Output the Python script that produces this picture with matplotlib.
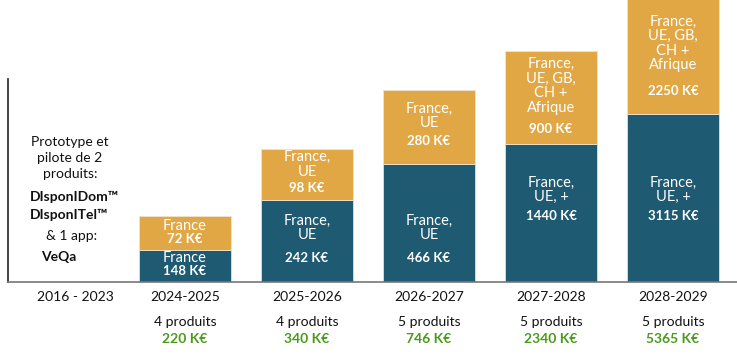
import matplotlib
matplotlib.use("Agg")
import matplotlib.pyplot as plt

# categories and values (bar heights are schematic)
periods = ["2024-2025", "2025-2026", "2026-2027", "2027-2028", "2028-2029"]
base_heights = [32, 82, 118, 138.5, 168.5]
export_heights = [34, 51, 74, 92.5, 120]
base_labels = ["France", "France,\nUE", "France,\nUE", "France,\nUE, +", "France,\nUE, +"]
base_values = [148, 242, 466, 1440, 3115]
export_labels = ["France", "France,\nUE", "France,\nUE",
                 "France,\nUE, GB,\nCH +\nAfrique", "France,\nUE, GB,\nCH +\nAfrique"]
export_values = [72, 98, 280, 900, 2250]
products = [4, 4, 5, 5, 5]
totals = [220, 340, 746, 2340, 5365]
first_period = "2016 - 2023"

BLUE = "#1e5a71"
ORANGE = "#e2a745"
GREEN = "#4a9a1c"
DARK = "#111111"

plt.rcParams["font.family"] = ["Lato", "DejaVu Sans"]

W, H = 737, 356
BASE_Y = 282  # pixel row of the x axis
fig = plt.figure(figsize=(W / 100, H / 100), dpi=100)
ax = fig.add_axes([8 / W, (H - BASE_Y) / H, 1 - 8 / W, BASE_Y / H])
ax.set_xlim(-0.4508, 5.5246)
ax.set_ylim(0, BASE_Y)


def py(row):
    # pixel row of the picture -> data y
    return BASE_Y - row


xs = list(range(1, len(periods) + 1))
ax.bar(xs, base_heights, width=0.754, color=BLUE, edgecolor="#d8e2e6", linewidth=0.6)
ax.bar(xs, export_heights, bottom=base_heights, width=0.754, color=ORANGE,
       edgecolor="#efe4cf", linewidth=0.6)

for sp in ["top", "right"]:
    ax.spines[sp].set_visible(False)
ax.spines["left"].set_bounds(0, 203)
ax.spines["left"].set_color("#222222")
ax.spines["left"].set_linewidth(1.2)
ax.spines["bottom"].set_color("#777777")
ax.spines["bottom"].set_linewidth(1.2)
ax.set_xticks([])
ax.set_yticks([])

# label placement (pixel rows of the text centres)
base_lab_rows = [258, 228, 228, 190, 190]
base_val_rows = [271, 258, 258, 216.5, 216.5]
exp_lab_rows = [226, 164.5, 116, 86, 43.5]
exp_val_rows = [239, 188, 141, 129, 91]

lab_kw = dict(color="white", ha="center", va="center", fontsize=10.5, linespacing=1.05)
val_kw = dict(color="white", ha="center", va="center", fontsize=9.5, fontweight="bold")
for i, x in enumerate(xs):
    ax.text(x, py(base_lab_rows[i]), base_labels[i], **lab_kw)
    ax.text(x, py(base_val_rows[i]), f"{base_values[i]} K€", **val_kw)
    ax.text(x, py(exp_lab_rows[i]), export_labels[i], **lab_kw)
    ax.text(x, py(exp_val_rows[i]), f"{export_values[i]} K€", **val_kw)

# bottom texts
for i, x in enumerate(xs):
    ax.text(x, py(297), periods[i], ha="center", va="center", fontsize=10, color=DARK)
    ax.text(x, py(322), f"{products[i]} produits", ha="center", va="center",
            fontsize=10, color=DARK)
    ax.text(x, py(339), f"{totals[i]} K€", ha="center", va="center", fontsize=10,
            fontweight="bold", color=GREEN)

x0 = 0.098
ax.text(x0, py(297), first_period, ha="center", va="center", fontsize=10, color=DARK)
ax.text(x0 - 0.04, py(158), "Prototype et\npilote de 2\nproduits:", ha="center",
        va="center", fontsize=10, linespacing=1.35, color=DARK)
ax.text(-0.27, py(197), "DIsponIDom™", ha="left", va="center", fontsize=10,
        fontweight="bold", color=DARK)
ax.text(-0.27, py(215), "DIsponITel™", ha="left", va="center", fontsize=10,
        fontweight="bold", color=DARK)
ax.text(x0 - 0.025, py(236), "& 1 app:", ha="center", va="center", fontsize=10,
        color=DARK)
ax.text(x0 - 0.13, py(257), "VeQa", ha="center", va="center", fontsize=10,
        fontweight="bold", color=DARK)

fig.savefig("out.png", dpi=100, facecolor="white")
